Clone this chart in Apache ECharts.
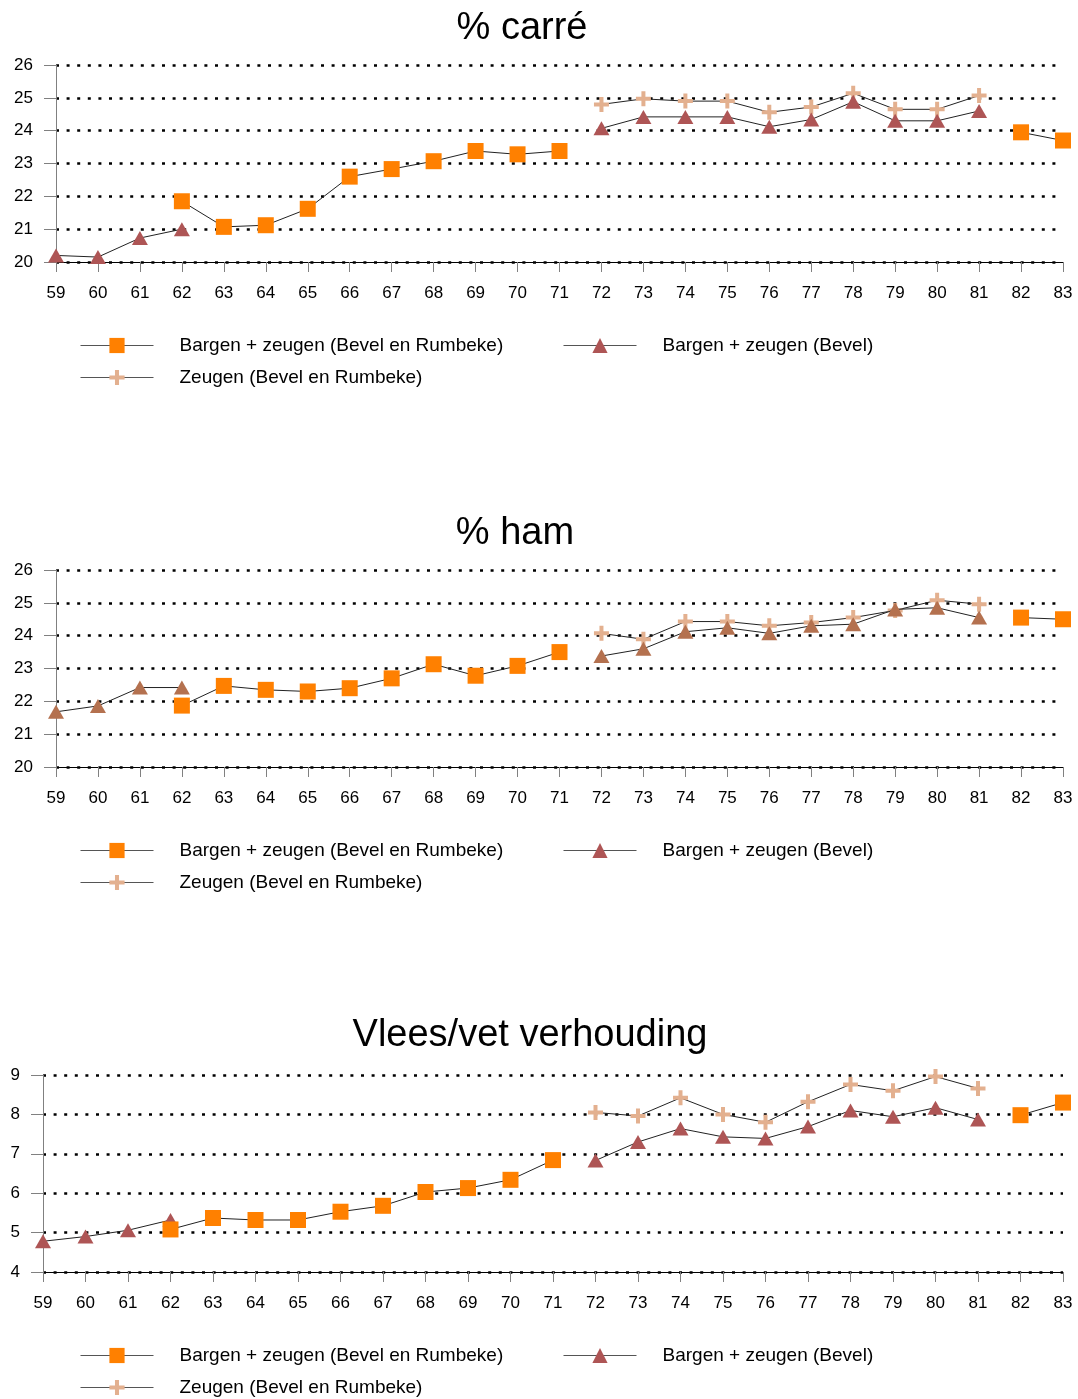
<!DOCTYPE html>
<html>
<head>
<meta charset="utf-8">
<title>Karkasaandelen 1959-1983</title>
<script src="https://cdn.jsdelivr.net/npm/echarts@6/dist/echarts.min.js"></script>
<style>
  html, body { margin: 0; padding: 0; background: #fff; }
  #chart { width: 1078px; height: 1399px; }
</style>
</head>
<body>
<div id="chart"></div>
<script>
// Jaren (19xx)
const years = ['59','60','61','62','63','64','65','66','67','68','69','70','71',
               '72','73','74','75','76','77','78','79','80','81','82','83'];

const seriesNames = [
  'Bargen + zeugen (Bevel en Rumbeke)',
  'Bargen + zeugen (Bevel)',
  'Zeugen (Bevel en Rumbeke)'
];

// % carré
const carreBargenZeugenBR = [null, null, null, 21.85, 21.07, 21.12, 21.62, 22.6, 22.83, 23.07, 23.38, 23.28, 23.38,
                             null, null, null, null, null, null, null, null, null, null, 23.95, 23.7];
const carreBargenZeugenB  = [20.2, 20.15, 20.73, 21.0, null, null, null, null, null, null, null, null, null,
                             24.07, 24.42, 24.42, 24.42, 24.12, 24.34, 24.88, 24.3, 24.3, 24.6, null, null];
const carreZeugenBR       = [null, null, null, null, null, null, null, null, null, null, null, null, null,
                             24.8, 24.97, 24.9, 24.9, 24.56, 24.72, 25.14, 24.65, 24.65, 25.07, null, null];

// % ham
const hamBargenZeugenBR = [null, null, null, 21.87, 22.47, 22.35, 22.3, 22.4, 22.7, 23.13, 22.78, 23.08, 23.5,
                           null, null, null, null, null, null, null, null, null, null, 24.55, 24.5];
const hamBargenZeugenB  = [21.68, 21.86, 22.42, 22.42, null, null, null, null, null, null, null, null, null,
                           23.38, 23.6, 24.12, 24.24, 24.07, 24.3, 24.35, 24.8, 24.85, 24.55, null, null];
const hamZeugenBR       = [null, null, null, null, null, null, null, null, null, null, null, null, null,
                           24.07, 23.89, 24.43, 24.43, 24.3, 24.4, 24.55, 24.77, 25.08, 24.96, null, null];

// Vlees/vet verhouding
const vvBargenZeugenBR = [null, null, null, 5.08, 5.37, 5.32, 5.32, 5.53, 5.68, 6.03, 6.13, 6.34, 6.84,
                          null, null, null, null, null, null, null, null, null, null, 7.98, 8.3];
const vvBargenZeugenB  = [4.78, 4.9, 5.06, 5.32, null, null, null, null, null, null, null, null, null,
                          6.83, 7.3, 7.64, 7.43, 7.39, 7.69, 8.1, 7.94, 8.17, 7.87, null, null];
const vvZeugenBR       = [null, null, null, null, null, null, null, null, null, null, null, null, null,
                          8.05, 7.96, 8.42, 8.0, 7.8, 8.32, 8.76, 8.6, 8.96, 8.66, null, null];

// Y-as ticks per grafiek
const carreTicks = [20, 21, 22, 23, 24, 25, 26];
const hamTicks   = [20, 21, 22, 23, 24, 25, 26];
const vvTicks    = [4, 5, 6, 7, 8, 9];

const FONT = '"Liberation Sans", Arial, sans-serif';
const PLUS = 'path://M5.5,0h4v5.5h5.5v4h-5.5v5.5h-4v-5.5h-5.5v-4h5.5z';

const panels = [
  { title: '% carré', titleX: 522, titleY: 29, left: 56, top: 65, ticks: carreTicks,
    data: [carreBargenZeugenBR, carreBargenZeugenB, carreZeugenBR], triColor: '#ae5555', legendY: 345 },
  { title: '% ham', titleX: 515, titleY: 534, left: 56, top: 570, ticks: hamTicks,
    data: [hamBargenZeugenBR, hamBargenZeugenB, hamZeugenBR], triColor: '#b4714f', legendY: 850 },
  { title: 'Vlees/vet verhouding', titleX: 530, titleY: 1036, left: 43, top: 1075, ticks: vvTicks,
    data: [vvBargenZeugenBR, vvBargenZeugenB, vvZeugenBR], triColor: '#ae5555', legendY: 1355 }
];

const grid = [], xAxis = [], yAxis = [], series = [], legend = [], graphic = [];

panels.forEach((p, i) => {
  grid.push({ left: p.left, right: 15, top: p.top, height: 197, containLabel: false });

  xAxis.push({
    type: 'category', gridIndex: i, data: years, boundaryGap: false,
    axisLine: { lineStyle: { color: '#000', width: 1 } },
    axisTick: { show: true, length: 10, alignWithLabel: true, lineStyle: { color: '#808080' } },
    axisLabel: { color: '#000', fontSize: 17, fontFamily: FONT, margin: 23, interval: 0 },
    splitLine: { show: false }
  });

  const tmin = p.ticks[0], tmax = p.ticks[p.ticks.length - 1];
  yAxis.push({
    type: 'value', gridIndex: i, min: tmin, max: tmax, interval: 1,
    axisLine: { show: true, lineStyle: { color: '#808080', width: 1 } },
    axisTick: { show: true, length: 12, lineStyle: { color: '#808080' } },
    axisLabel: { color: '#000', fontSize: 17, fontFamily: FONT, margin: 23 },
    splitLine: { show: true, lineStyle: { color: '#000', width: 2.5, type: [3, 7.6] } }
  });

  const styles = [
    { symbol: 'rect', symbolSize: 16, color: '#ff8000' },
    { symbol: 'triangle', symbolSize: [16, 14], color: p.triColor },
    { symbol: PLUS, symbolSize: 15, color: '#e3b08f' }
  ];

  styles.forEach((s, k) => {
    series.push({
      name: seriesNames[k], type: 'line', xAxisIndex: i, yAxisIndex: i,
      data: p.data[k], connectNulls: false,
      symbol: s.symbol, symbolSize: s.symbolSize, showSymbol: true,
      itemStyle: { color: s.color },
      lineStyle: { color: '#222', width: 1 },
      emphasis: { disabled: true },
      animation: false, z: 3 - k + 2
    });
  });

  // drie legendaregels per grafiek: twee naast elkaar, één eronder
  const positions = [[80, p.legendY], [563, p.legendY], [80, p.legendY + 32]];
  positions.forEach((pos, k) => {
    legend.push({
      data: [seriesNames[k]], left: pos[0], top: pos[1] - 9, padding: 0,
      itemWidth: 73, itemHeight: 19, selectedMode: false,
      textStyle: { color: '#000', fontSize: 19, fontFamily: FONT, padding: [0, 0, 0, 21] },
      lineStyle: { color: '#555', width: 1 }
    });
  });

  graphic.push({
    type: 'text', x: p.titleX, y: p.titleY,
    style: { text: p.title, fill: '#000', font: '38px ' + FONT, textAlign: 'center', textVerticalAlign: 'middle' }
  });
});

const chart = echarts.init(document.getElementById('chart'), null, { renderer: 'canvas' });
chart.setOption({
  backgroundColor: '#fff',
  animation: false,
  grid, xAxis, yAxis, series, legend, graphic
});
</script>
</body>
</html>
